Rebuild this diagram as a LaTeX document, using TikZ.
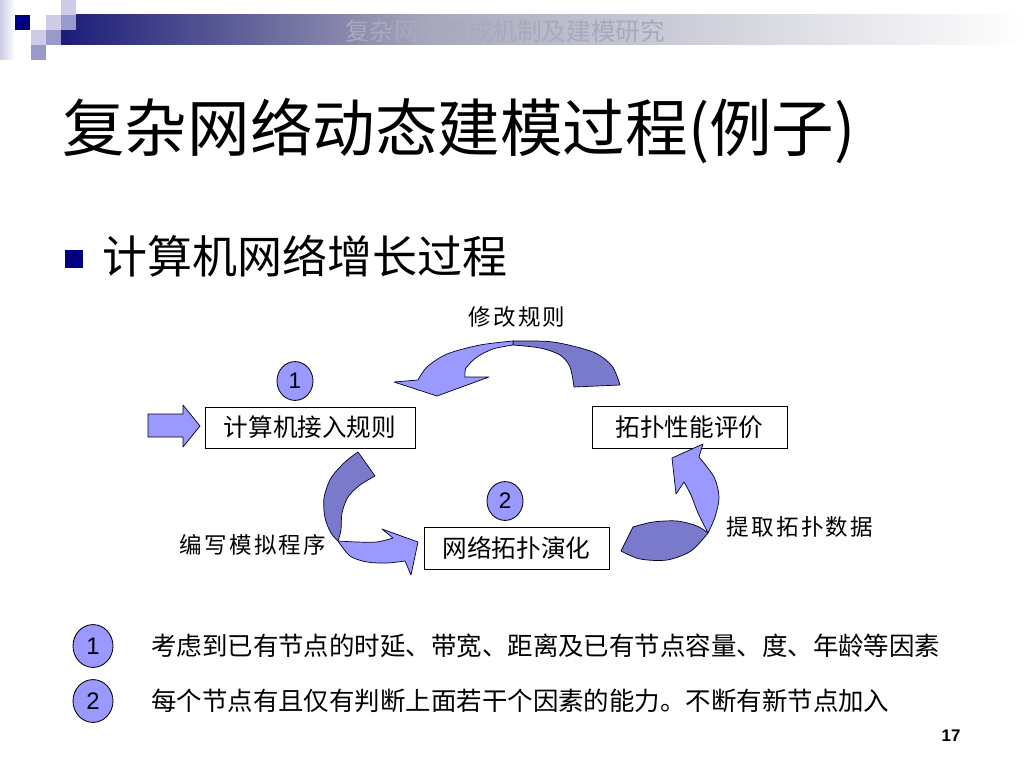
\documentclass[tikz,border=0pt]{standalone}
\usepackage{fontspec}
\setmainfont{Liberation Sans}
\newfontfamily\cjk{Noto Sans CJK SC}
\newfontfamily\cjklabel[LetterSpace=10]{Noto Sans CJK SC}
\usetikzlibrary{shapes.geometric}

\definecolor{navy}{RGB}{0,0,128}
\definecolor{barnavy}{RGB}{28,28,120}
\definecolor{barmid}{RGB}{168,168,188}
\definecolor{lilac}{RGB}{204,204,230}
\definecolor{lilacmid}{RGB}{153,153,204}
\definecolor{arrowlight}{RGB}{153,153,255}
\definecolor{arrowdark}{RGB}{122,122,204}
\definecolor{headgray}{RGB}{168,168,190}

\begin{document}
\begin{tikzpicture}[
            x=0.025cm, y=-0.025cm,
            box/.style={
                rectangle,
                draw=black,
                line width=0.6pt,
                inner sep=0pt,
                font=\cjk\fontsize{17.5pt}{20pt}\selectfont
            },
            note/.style={
                inner sep=0pt,
                font=\cjklabel\fontsize{16pt}{18pt}\selectfont
            },
            line/.style={
                anchor=west,
                inner sep=0pt,
                font=\cjk\fontsize{18.1pt}{20pt}\selectfont
            },
            numdot/.style={
                ellipse,
                draw=black,
                line width=0.6pt,
                fill=arrowlight,
                inner sep=0pt,
                minimum width=0.9cm,
                minimum height=0.97cm,
                font=\fontsize{16pt}{18pt}\selectfont
            },
            blockarrow/.style={draw=black!85!blue, line width=0.5pt, line join=round}
        ]
        \useasboundingbox (0,0) rectangle (1024,768);
        \fill[white] (0,0) rectangle (1024,768);

        % Header band and squares
        \shade[left color=lilac, right color=white] (0,0) rectangle (15,60);
        \shade[left color=barnavy, right color=barmid] (61,15) rectangle (430,45);
        \shade[left color=barmid, right color=white] (430,15) rectangle (1024,45);
        \fill[navy] (15,15) rectangle (30,30);
        \fill[lilac] (46,15) rectangle (61,30);
        \fill[lilac] (61,0) rectangle (76,15);
        \fill[lilac] (31,30) rectangle (46,45);
        \fill[lilacmid] (61,15) rectangle (76,30);
        \fill[lilacmid] (46,30) rectangle (61,45);
        \fill[lilacmid] (31,45) rectangle (46,60);
        \node[font=\cjk\fontsize{17.5pt}{20pt}\selectfont, text=headgray] (head) at (505,31) {复杂网络形成机制及建模研究};

        % Title and bullet
        \node[anchor=west, inner sep=0pt, font=\cjk\fontsize{44.5pt}{50pt}\selectfont] (title) at (62,131) {复杂网络动态建模过程(例子)};
        \fill[navy] (65,250) rectangle (83,268);
        \node[anchor=west, inner sep=0pt, font=\cjk\fontsize{32pt}{36pt}\selectfont] (sub) at (102,256) {计算机网络增长过程};

        % Boxes
        \node[box, minimum width=5.25cm, minimum height=1.025cm] (rule) at (310,427.5) {计算机接入规则};
        \node[box, minimum width=4.875cm, minimum height=1.05cm] (eval) at (689.5,427) {拓扑性能评价};
        \node[box, minimum width=4.625cm, minimum height=1.05cm] (evol) at (516.5,548) {网络拓扑演化};

        % Step marks
        \node[numdot] (s1) at (295,381) {1};
        \node[numdot] (s2) at (505,501) {2};

        % Input arrow
        \draw[blockarrow, fill=arrowlight] (148,414) -- (183,414) -- (183,405) -- (200,426) -- (183,447) -- (183,437) -- (148,437) -- cycle;

        % Curved arrow: modify rules
        \draw[blockarrow, fill=arrowdark] plot[smooth] coordinates {(513,341) (553,342) (593,352) (612,366) (620,385)} -- (574,387) -- plot[smooth] coordinates {(574,387) (570,367) (560,355) (540,348) (513,345)} -- cycle;
        \draw[blockarrow, fill=arrowlight] plot[smooth] coordinates {(513,341) (480,345) (447,354) (427,367) (418,380)} -- (394,382) -- (437,396) -- (489,377) -- (465,377) -- plot[smooth] coordinates {(465,377) (466,368) (477,357) (493,349) (513,345)} -- cycle;

        % Curved arrow: write program
        \draw[blockarrow, fill=arrowdark] plot[smooth] coordinates {(358,452) (345,462) (331,478) (324,498) (325,518) (331,533) (338,541)} -- plot[smooth] coordinates {(338,541) (341,530) (342,513) (348,497) (360,485) (375,476)} -- cycle;
        \draw[blockarrow, fill=arrowlight] plot[smooth] coordinates {(338,541) (350,556) (367,562) (387,563) (405,561)} -- (411,575) -- (418,542) -- (382,529) -- (393,538) -- plot[smooth] coordinates {(393,538) (377,542) (357,542) (338,541)} -- cycle;

        % Curved arrow: extract data
        \draw[blockarrow, fill=arrowdark] plot[smooth] coordinates {(621,551) (640,559) (667,560) (691,551) (708,533)} -- plot[smooth] coordinates {(708,533) (697,526) (677,521) (653,522) (633,527)} -- cycle;
        \draw[blockarrow, fill=arrowlight] plot[smooth] coordinates {(708,533) (715,517) (719,497) (714,477) (699,457)} -- (703,444) -- (672,458) -- (676,494) -- (684,482) -- plot[smooth] coordinates {(684,482) (691,495) (698,513) (708,533)} -- cycle;

        % Arrow labels
        \node[note] (lmod) at (517,317) {修改规则};
        \node[note] (lprog) at (253,545) {编写模拟程序};
        \node[note] (ldata) at (800,527) {提取拓扑数据};

        % Notes at the bottom
        \node[numdot, minimum width=1cm, minimum height=1.07cm, font=\fontsize{17pt}{19pt}\selectfont] (n1) at (93,646) {1};
        \node[line] (f1) at (151,646) {考虑到已有节点的时延、带宽、距离及已有节点容量、度、年龄等因素};
        \node[numdot, minimum width=1cm, minimum height=1.07cm, font=\fontsize{17pt}{19pt}\selectfont] (n2) at (93,701) {2};
        \node[line] (f2) at (151,701) {每个节点有且仅有判断上面若干个因素的能力。不断有新节点加入};

        \node[inner sep=0pt, font=\bfseries\fontsize{12pt}{14pt}\selectfont] (page) at (951,736) {17};
        \end{tikzpicture}
\end{document}
